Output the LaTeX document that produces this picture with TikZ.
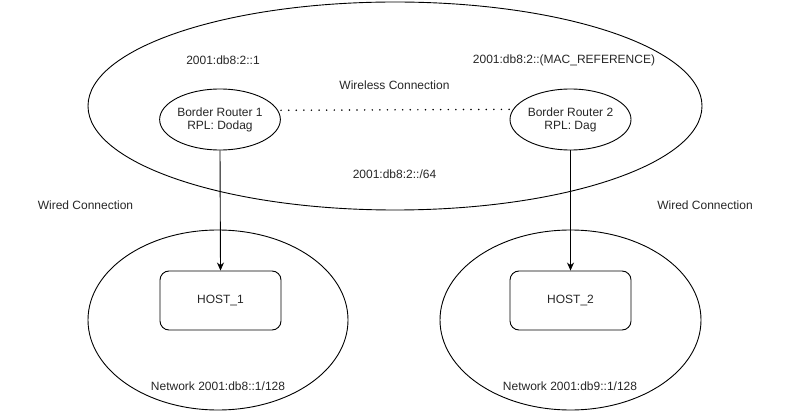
\documentclass[tikz,border=0pt]{standalone}
\usepackage{fontspec}
\setmainfont{Liberation Sans}
\usetikzlibrary{shapes.geometric,arrows.meta}
\begin{document}
\begin{tikzpicture}[x=1pt,y=-1pt,
  every node/.style={font=\fontsize{12}{14}\selectfont, text=black!85},
  oval/.style={draw, ellipse, line width=0.9pt, inner sep=0pt},
  hostbox/.style={draw, rectangle, rounded corners=9pt, line width=0.9pt, minimum width=121pt, minimum height=59pt, inner sep=0pt},
  lbl/.style={inner sep=0pt, align=center},
  link/.style={line width=0.9pt, -{Stealth[length=8pt,width=7pt]}},
  wireless/.style={line width=1.7pt, dash pattern=on 0pt off 7.6pt, line cap=round}
]
\useasboundingbox (0,0) rectangle (791,411);
\node[oval, minimum width=614pt, minimum height=208pt] (wlan) at (395,106) {};
\node[oval, minimum width=260pt, minimum height=180pt] (net1) at (218,320) {};
\node[oval, minimum width=261pt, minimum height=180pt] (net2) at (570.5,320) {};
\node[oval, minimum width=119pt, minimum height=61pt, align=center] (br1) at (220,119.5) {Border Router 1\\[-1pt]RPL: Dodag};
\node[oval, minimum width=121pt, minimum height=61pt, align=center] (br2) at (570.5,119.5) {Border Router 2\\[-1pt]RPL: Dag};
\node[hostbox] (h1) at (220.5,300.5) {HOST\_1};
\node[hostbox] (h2) at (570.5,300.5) {HOST\_2};
\node[lbl] (a1) at (223,60) {2001:db8:2::1};
\node[lbl] (a2) at (564,60) {2001:db8:2::(MAC\_REFERENCE)};
\node[lbl] (wl) at (394.5,85) {Wireless Connection};
\node[lbl] (pre) at (394.5,174) {2001:db8:2::/64};
\node[lbl] (wc1) at (85.5,205) {Wired Connection};
\node[lbl] (wc2) at (705,205) {Wired Connection};
\node[lbl] (n1) at (218,386) {Network 2001:db8::1/128};
\node[lbl] (n2) at (570,386) {Network 2001:db9::1/128};
\draw[wireless] ([xshift=3pt]br1.9.5) -- ([xshift=-3pt]br2.170.5);
\draw[link] (br1.south) -- (h1.north);
\draw[link] (br2.south) -- (h2.north);
\end{tikzpicture}
\end{document}
